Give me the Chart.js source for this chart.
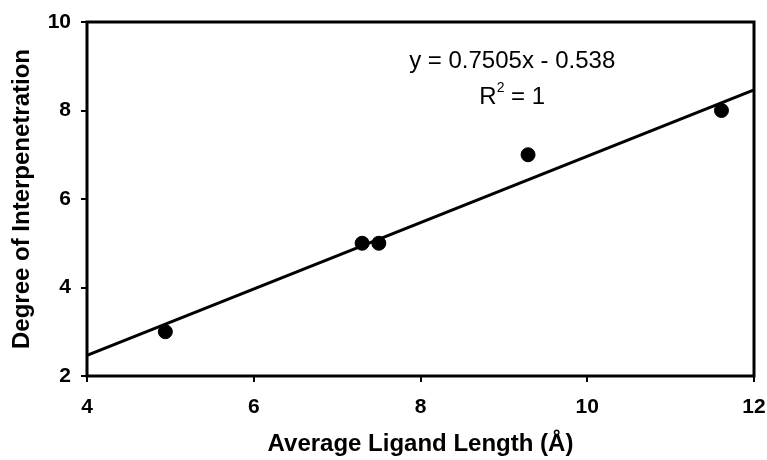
<!DOCTYPE html>
<html>
<head>
<meta charset="utf-8">
<script src="https://cdn.jsdelivr.net/npm/chart.js@4/dist/chart.umd.min.js"></script>
<style>
  html, body { margin: 0; padding: 0; background: #fff; }
  #wrap { width: 767px; height: 460px; }
</style>
</head>
<body>
<div id="wrap"><canvas id="grafico" width="767" height="460"></canvas></div>
<script>
const ligandLength = [4.94, 7.30, 7.50, 9.29, 11.61];
const interpenetration = [3, 5, 5, 7, 8];

const trendX = [4, 12];
const trendY = [2.464, 8.468];

const xTicks = [4, 6, 8, 10, 12];
const yTicks = [2, 4, 6, 8, 10];

const equationText = ['y = 0.7505x - 0.538', 'R', '2', ' = 1'];

const FONTE = '"Liberation Sans", Arial, sans-serif';

// moldura preta à volta da área do gráfico + texto da equação
const molduraPlugin = {
    id: 'moldura',
    afterDatasetsDraw(chart) {
        const { ctx, chartArea: a, scales } = chart;
        ctx.save();
        ctx.strokeStyle = '#000';
        ctx.lineWidth = 3;
        ctx.strokeRect(a.left, a.top, a.right - a.left, a.bottom - a.top);

        const cx = scales.x.getPixelForValue(9.1);
        const y1 = scales.y.getPixelForValue(9.1);
        const y2 = scales.y.getPixelForValue(8.3);
        ctx.fillStyle = '#000';
        ctx.textBaseline = 'middle';
        ctx.textAlign = 'center';
        ctx.font = '24px ' + FONTE;
        ctx.fillText(equationText[0], cx, y1);

        const wR = ctx.measureText(equationText[1]).width;
        const wRest = ctx.measureText(equationText[3]).width;
        ctx.font = '14px ' + FONTE;
        const w2 = ctx.measureText(equationText[2]).width;
        let x0 = cx - (wR + w2 + wRest) / 2;
        ctx.textAlign = 'left';
        ctx.font = '24px ' + FONTE;
        ctx.fillText(equationText[1], x0, y2);
        ctx.font = '14px ' + FONTE;
        ctx.fillText(equationText[2], x0 + wR, y2 - 9);
        ctx.font = '24px ' + FONTE;
        ctx.fillText(equationText[3], x0 + wR + w2, y2);
        ctx.restore();
    }
};

function renderGrafico() {
    const ctx = document.getElementById('grafico');

    new Chart(ctx, {
        type: 'scatter',
        data: {
            datasets: [{
                label: 'dados',
                data: ligandLength.map((x, i) => ({ x: x, y: interpenetration[i] })),
                backgroundColor: '#000',
                borderColor: '#000',
                pointRadius: 7,
                pointHoverRadius: 7
            }, {
                type: 'line',
                label: 'tendencia',
                data: trendX.map((x, i) => ({ x: x, y: trendY[i] })),
                borderColor: '#000',
                borderWidth: 3,
                pointRadius: 0,
                fill: false
            }]
        },
        options: {
            responsive: false,
            animation: false,
            layout: { padding: { top: 22, right: 13, left: 0, bottom: 0 } },
            plugins: {
                legend: { display: false },
                tooltip: { enabled: false }
            },
            scales: {
                x: {
                    type: 'linear',
                    min: 4,
                    max: 12,
                    afterBuildTicks: s => { s.ticks = xTicks.map(v => ({ value: v })); },
                    afterFit: s => {
                        s.height = 84;
                        s.paddingLeft = 0;
                        s.paddingRight = 0;
                    },
                    grid: {
                        drawOnChartArea: false,
                        drawTicks: true,
                        tickLength: 6,
                        color: '#000',
                        lineWidth: 2
                    },
                    border: { display: false },
                    ticks: {
                        color: '#000',
                        padding: 13,
                        font: { family: FONTE, size: 21, weight: 'bold' }
                    },
                    title: {
                        display: true,
                        text: 'Average Ligand Length (Å)',
                        color: '#000',
                        padding: { top: 0, bottom: 1 },
                        font: { family: FONTE, size: 24, weight: 'bold' }
                    }
                },
                y: {
                    type: 'linear',
                    min: 2,
                    max: 10,
                    afterBuildTicks: s => { s.ticks = yTicks.map(v => ({ value: v })); },
                    afterFit: s => {
                        s.width = 87;
                        s.paddingTop = 0;
                        s.paddingBottom = 0;
                    },
                    grid: {
                        drawOnChartArea: false,
                        drawTicks: true,
                        tickLength: 6,
                        color: '#000',
                        lineWidth: 2
                    },
                    border: { display: false },
                    ticks: {
                        color: '#000',
                        padding: 10,
                        font: { family: FONTE, size: 21, weight: 'bold' }
                    },
                    title: {
                        display: true,
                        text: 'Degree of Interpenetration',
                        color: '#000',
                        padding: { top: 8, bottom: 0 },
                        font: { family: FONTE, size: 24, weight: 'bold' }
                    }
                }
            }
        },
        plugins: [molduraPlugin]
    });
}

renderGrafico();
</script>
</body>
</html>
